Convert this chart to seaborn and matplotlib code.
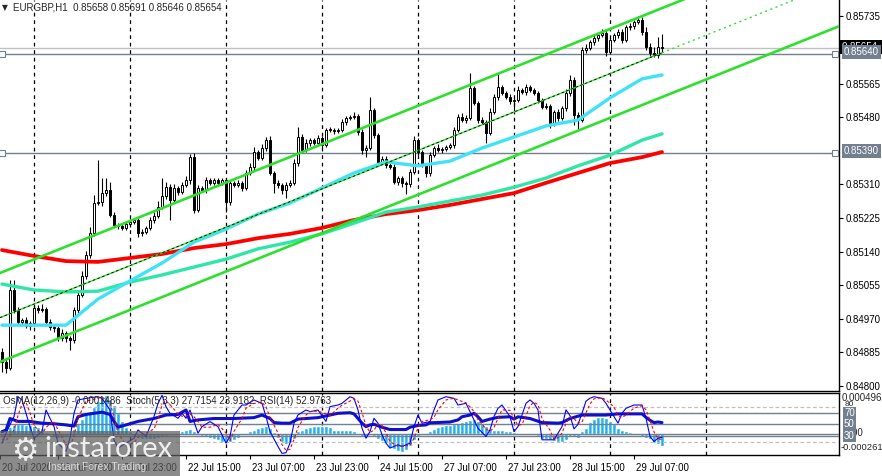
import numpy as np
import pandas as pd
import seaborn as sns
import matplotlib.pyplot as plt
from matplotlib.patches import Rectangle
from matplotlib.transforms import ScaledTranslation

# ---- data (EURGBP H1) ----
first_open = 0.84886
closes = [
    0.84861, 0.84846, 0.85043, 0.84992, 0.84962, 0.84967, 0.84952, 0.84959, 0.84997, 0.84992,
    0.84995, 0.84962, 0.84949, 0.84947, 0.84921, 0.84934, 0.84921, 0.84916, 0.84992, 0.85030,
    0.85078, 0.85131, 0.85187, 0.85263, 0.85266, 0.85288, 0.85296, 0.85233, 0.85207, 0.85205,
    0.85200, 0.85210, 0.85215, 0.85220, 0.85187, 0.85190, 0.85200, 0.85220, 0.85230, 0.85253,
    0.85281, 0.85303, 0.85271, 0.85301, 0.85291, 0.85309, 0.85321, 0.85379, 0.85245, 0.85301,
    0.85296, 0.85321, 0.85314, 0.85321, 0.85314, 0.85321, 0.85266, 0.85314, 0.85309, 0.85314,
    0.85301, 0.85339, 0.85354, 0.85392, 0.85377, 0.85402, 0.85422, 0.85339, 0.85314, 0.85309,
    0.85296, 0.85309, 0.85314, 0.85364, 0.85430, 0.85397, 0.85415, 0.85422, 0.85415, 0.85427,
    0.85410, 0.85448, 0.85448, 0.85445, 0.85448, 0.85468, 0.85478, 0.85481, 0.85484, 0.85443,
    0.85397, 0.85402, 0.85498, 0.85435, 0.85367, 0.85375, 0.85360, 0.85355, 0.85316, 0.85326,
    0.85314, 0.85310, 0.85341, 0.85422, 0.85392, 0.85359, 0.85339, 0.85384, 0.85402, 0.85397,
    0.85400, 0.85405, 0.85410, 0.85448, 0.85481, 0.85473, 0.85478, 0.85554, 0.85516, 0.85473,
    0.85468, 0.85440, 0.85493, 0.85531, 0.85556, 0.85541, 0.85531, 0.85521, 0.85524, 0.85549,
    0.85544, 0.85556, 0.85549, 0.85541, 0.85524, 0.85506, 0.85508, 0.85465, 0.85493, 0.85478,
    0.85503, 0.85541, 0.85574, 0.85486, 0.85473, 0.85650, 0.85655, 0.85670, 0.85680, 0.85688,
    0.85693, 0.85645, 0.85675, 0.85688, 0.85696, 0.85675, 0.85708, 0.85710, 0.85721, 0.85726,
    0.85696, 0.85657, 0.85642, 0.85637, 0.85658, 0.85654,
]
# wick lengths in points (1e-5)
upper_wick_pts = [
    10, 8, 25, 25, 8, 6, 8, 5, 10, 8,
    12, 6, 8, 5, 6, 10, 5, 6, 8, 10,
    12, 10, 15, 20, 106, 38, 30, 20, 8, 6,
    8, 5, 8, 6, 5, 8, 6, 8, 10, 15,
    45, 12, 8, 10, 6, 8, 10, 8, 10, 8,
    6, 8, 6, 5, 5, 6, 5, 8, 5, 6,
    5, 8, 10, 12, 6, 10, 8, 10, 5, 6,
    5, 6, 8, 10, 25, 8, 10, 6, 5, 8,
    6, 5, 8, 6, 5, 8, 6, 5, 8, 5,
    6, 8, 33, 6, 5, 8, 6, 5, 6, 5,
    6, 5, 8, 10, 6, 5, 6, 8, 6, 10,
    5, 6, 5, 8, 6, 10, 8, 38, 6, 5,
    8, 5, 10, 8, 35, 6, 5, 8, 6, 10,
    5, 8, 6, 5, 6, 5, 8, 5, 6, 8,
    6, 10, 12, 8, 6, 8, 10, 6, 8, 5,
    10, 8, 6, 5, 8, 6, 5, 8, 6, 10,
    8, 12, 10, 15, 25, 33,
]
lower_wick_pts = [
    25, 12, 5, 8, 6, 8, 5, 10, 6, 8,
    5, 6, 8, 10, 8, 6, 10, 25, 6, 8,
    5, 8, 6, 8, 5, 10, 8, 6, 5, 8,
    6, 5, 8, 6, 10, 8, 6, 5, 8, 6,
    5, 8, 50, 6, 8, 5, 6, 10, 8, 6,
    5, 8, 6, 5, 8, 6, 25, 8, 5, 6,
    8, 5, 6, 8, 5, 6, 8, 6, 25, 8,
    10, 20, 6, 5, 8, 6, 5, 8, 6, 5,
    8, 6, 5, 8, 6, 5, 8, 6, 5, 8,
    10, 18, 6, 8, 10, 6, 8, 6, 5, 8,
    10, 23, 6, 5, 8, 6, 10, 8, 5, 6,
    8, 5, 6, 8, 5, 6, 8, 6, 5, 8,
    6, 25, 5, 6, 8, 6, 5, 8, 33, 6,
    5, 8, 6, 5, 8, 6, 5, 13, 6, 8,
    5, 6, 8, 25, 25, 6, 8, 5, 6, 8,
    5, 10, 6, 5, 8, 6, 5, 8, 6, 5,
    8, 6, 8, 5, 8, 8,
]
volumes = [
    60, 65, 115, 65, 60, 43, 40, 25, 10, 50,
    42, 50, 45, 40, 30, 25, 25, 62, 82, 70,
    65, 65, 67, 85, 135, 128, 100, 75, 50, 60,
    45, 50, 85, 65, 60, 55, 50, 40, 35, 25,
    40, 85, 97, 75, 70, 72, 78, 78, 93, 99,
    75, 57, 35, 35, 25, 27, 37, 15, 15, 39,
    57, 39, 35, 35, 37, 63, 87, 73, 73, 73,
    105, 117, 145, 135, 127, 78, 63, 45, 33, 21,
    37, 12, 18, 69, 61, 39, 33, 25, 41, 65,
    87, 78, 65, 65, 65, 84, 99, 117, 111, 61,
    48, 40, 51, 29, 51, 51, 21, 85, 69, 45,
    35, 30, 39, 72, 96, 75, 63, 69, 81, 81,
    96, 108, 93, 81, 63, 57, 30, 18, 57, 18,
    18, 48, 37, 37, 48, 42, 42, 66, 63, 75,
    54, 60, 78, 72, 78, 108, 117, 78, 54, 36,
    36, 24, 21, 21, 27, 48, 63, 51, 45, 45,
    43, 57, 60, 63, 60, 57,
]

ma_bars = [0, 8, 16, 24, 32, 40, 48, 56, 64, 72, 80, 88, 96, 104, 112, 120, 128, 136, 144, 152, 160, 165]
ma_fast = [0.84954, 0.84954, 0.84954, 0.85020, 0.85066, 0.85111, 0.85164, 0.85197, 0.85235, 0.85263, 0.85301,
           0.85339, 0.85367, 0.85357, 0.85369, 0.85402, 0.85430, 0.85458, 0.85473, 0.85529, 0.85577, 0.85587]
ma_mid = [0.85058, 0.85043, 0.85038, 0.85040, 0.85063, 0.85081, 0.85101, 0.85121, 0.85147, 0.85164, 0.85185,
          0.85212, 0.85240, 0.85253, 0.85268, 0.85283, 0.85303, 0.85326, 0.85357, 0.85384, 0.85422, 0.85438]
ma_slow = [0.85144, 0.85129, 0.85116, 0.85114, 0.85124, 0.85134, 0.85149, 0.85159, 0.85174, 0.85185, 0.85200,
           0.85220, 0.85235, 0.85245, 0.85258, 0.85273, 0.85288, 0.85314, 0.85339, 0.85364, 0.85379, 0.85392]

# channel anchors: price at bar 0 and at bar 165
channel_bars = [0, 165]
channel_upper = [0.85088, 0.85756]
channel_mid = [0.84975, 0.85642]
channel_lower = [0.84863, 0.85531]

osma = [
    -0.00003, -0.00002, 0.00008, 0.00011, 0.00012, 0.00012, 0.00011, 0.00010, 0.00009, 0.00008,
    0.00007, 0.00002, -0.00002, -0.00004, -0.00005, -0.00005, -0.00004, -0.00002, 0.00006, 0.00012,
    0.00018, 0.00024, 0.00028, 0.00032, 0.00040, 0.00045, 0.00047, 0.00042, 0.00035, 0.00025,
    0.00015, 0.00008, 0.00003, -0.00003, -0.00005, -0.00006, -0.00007, -0.00007, -0.00006, -0.00005,
    -0.00004, -0.00003, -0.00002, -0.00001, 0.00001, 0.00003, 0.00004, 0.00006, 0.00003, -0.00002,
    -0.00003, -0.00004, -0.00005, -0.00006, -0.00008, -0.00010, -0.00012, -0.00010, -0.00008, -0.00005,
    -0.00002, 0.00001, 0.00003, 0.00005, 0.00007, 0.00008, 0.00009, 0.00007, 0.00002, -0.00005,
    -0.00010, -0.00013, -0.00012, -0.00006, 0.00003, 0.00005, 0.00007, 0.00008, 0.00009, 0.00009,
    0.00009, 0.00009, 0.00008, 0.00004, 0.00004, 0.00004, 0.00005, 0.00005, 0.00003, -0.00001,
    -0.00004, -0.00004, -0.00002, -0.00003, -0.00006, -0.00009, -0.00012, -0.00017, -0.00019, -0.00021,
    -0.00023, -0.00020, -0.00015, -0.00008, -0.00004, -0.00002, -0.00001, 0.00003, 0.00006, 0.00008,
    0.00009, 0.00010, 0.00011, 0.00012, 0.00013, 0.00014, 0.00015, 0.00017, 0.00018, 0.00016,
    0.00013, 0.00009, 0.00006, 0.00005, 0.00004, 0.00004, 0.00003, 0.00003, 0.00002, 0.00001,
    -0.00001, -0.00001, -0.00002, -0.00002, -0.00003, -0.00006, -0.00007, -0.00008, -0.00009, -0.00010,
    -0.00010, -0.00008, -0.00004, -0.00004, -0.00005, 0.00003, 0.00007, 0.00014, 0.00018, 0.00020,
    0.00020, 0.00019, 0.00016, 0.00012, 0.00007, 0.00004, 0.00003, 0.00002, 0.00001, -0.00002,
    -0.00004, -0.00005, -0.00006, -0.00011, -0.00013, -0.000149,
]

stoch_bars = [0, 1, 3, 4, 5, 6, 7, 8, 10, 11, 13, 14, 16, 17, 18, 19, 21, 24, 25, 27, 28, 29, 31, 33, 34, 36, 38, 39,
              40, 41, 42, 44, 45, 46, 47, 48, 49, 50, 52, 54, 56, 57, 58, 60, 61, 63, 65, 66, 67, 69, 70, 71, 72, 73,
              74, 76, 77, 79, 81, 82, 84, 85, 87, 88, 89, 90, 91, 92, 93, 94, 95, 96, 97, 99, 100, 102, 103, 104, 105,
              107, 108, 109, 111, 113, 114, 116, 117, 118, 119, 121, 122, 123, 124, 125, 127, 128, 129, 130, 131, 132,
              133, 134, 135, 137, 138, 139, 140, 141, 142, 143, 144, 145, 146, 147, 148, 150, 151, 153, 154, 155, 156,
              158, 160, 161, 162, 163, 164, 165]
stoch_main = [17.5, 34.7, 63.3, 97.6, 91.9, 69, 46, 26, 37.5, 74.7, 46, 17.5, 3.3, 26, 69, 91.9, 94.8, 97.6, 94.8,
              74.7, 23.3, 9, 17.5, 26, 40.4, 29, 63.3, 86.2, 100, 80.5, 69, 60.4, 69, 60.4, 74.7, 54.7, 34.7, 46, 54.7,
              46, 17.5, 29, 66.1, 83.3, 83.3, 91.9, 86.2, 63.3, 37.5, 11.8, 0, 1, 17.5, 51.8, 66.1, 74.7, 71.8, 74.7,
              55, 80.5, 83.3, 86.2, 97.6, 94.8, 74.7, 43.2, 26, 37.5, 60.4, 52, 32, 17.5, 9, 14.6, 11.8, 17.5, 46, 66,
              52, 54.7, 74.7, 92, 97.6, 94.8, 83.3, 86.2, 72, 57.6, 43.2, 29, 40.4, 63.3, 77.6, 83.3, 63.3, 37.5, 46,
              66, 86.2, 92, 86.2, 74.7, 23.3, 23.3, 23.3, 34.7, 46, 75, 65, 42, 50, 69, 90, 95, 97.6, 94.8, 86.2, 63.3,
              52, 69, 77.6, 83.3, 83.3, 60.4, 29, 20.4, 26, 27.7154]
stoch_signal = [25, 22, 40, 65, 85, 88, 70, 48, 32, 45, 55, 40, 15, 12, 30, 60, 90, 95, 97, 88, 62, 35, 14, 18, 28,
                35, 42, 60, 83, 90, 84, 68, 64, 64, 68, 63, 55, 45, 45, 50, 35, 22, 38, 60, 78, 86, 88, 80, 62, 35,
                15, 5, 7, 24, 45, 66, 72, 73, 68, 65, 78, 83, 90, 94, 90, 70, 48, 36, 40, 50, 48, 35, 20, 12, 12, 14,
                26, 44, 55, 58, 62, 75, 92, 95, 92, 87, 80, 72, 58, 42, 38, 45, 60, 75, 74, 60, 48, 50, 65, 82, 88, 84,
                60, 40, 24, 27, 35, 52, 62, 60, 52, 54, 70, 85, 94, 96, 92, 80, 65, 62, 66, 78, 82, 75, 57, 37, 25,
                23.9182]

rsi_bars = [0, 1, 2, 4, 7, 10, 13, 16, 18, 19, 21, 25, 27, 28, 29, 31, 34, 38, 41, 44, 46, 47, 49, 53, 58, 63, 65, 67,
            68, 70, 72, 74, 76, 79, 80, 82, 84, 87, 88, 90, 91, 92, 93, 95, 97, 101, 102, 104, 106, 107, 112, 114,
            115, 117, 118, 119, 120, 122, 124, 127, 128, 129, 132, 135, 139, 140, 142, 144, 145, 151, 154, 160, 161,
            162, 163, 164, 165]
rsi_values = [37.5, 40, 60, 55, 55, 52, 51, 49, 47, 63, 67, 71, 67, 55, 45, 49, 55, 60, 66, 67, 74.7, 55, 57.6, 60,
              60, 61.5, 66, 60, 53, 52, 52, 59, 60, 61.5, 63, 66, 69, 70, 68, 52, 46, 49, 50, 45, 41, 41, 45, 48, 49,
              52.6, 54, 57.6, 63, 66, 69, 63, 55, 59, 62, 63, 59, 63, 60, 53, 52, 53, 60, 64, 66, 66, 68, 68, 62, 57,
              53, 54, 52.9763]

price_ticks = [0.85735, 0.85565, 0.85480, 0.85310, 0.85225, 0.85140, 0.85055, 0.84970, 0.84885, 0.84800]
level_prices = [0.85640, 0.85390]
bid_price = 0.85654
grid_bars = [8, 32, 56, 80, 104, 128, 152, 176]
time_bars = [-0.5, 14, 30, 46, 62, 78, 94, 110, 126, 142, 158]
time_labels = ["20 Jul 2020", "21 Jul 07:00", "21 Jul 23:00", "22 Jul 15:00", "23 Jul 07:00", "23 Jul 23:00",
               "24 Jul 15:00", "27 Jul 07:00", "27 Jul 23:00", "28 Jul 15:00", "29 Jul 07:00"]

# ---- frame ----
df = pd.DataFrame({"bar": np.arange(len(closes)), "close": closes, "volume": volumes, "osma": osma})
df["open"] = [first_open] + closes[:-1]
top = df[["open", "close"]].max(axis=1)
bot = df[["open", "close"]].min(axis=1)
df["high"] = top + np.array(upper_wick_pts) * 1e-5
df["low"] = bot - np.array(lower_wick_pts) * 1e-5

sns.set_style("white")
plt.rcParams["font.family"] = ["Liberation Sans", "DejaVu Sans"]

W, H = 882, 476
fig = plt.figure(figsize=(W / 100, H / 100), dpi=100)


def rect(x0, y0, x1, y1):
    return [x0 / W, 1 - y1 / H, (x1 - x0) / W, (y1 - y0) / H]


def ptext(x, y, s, **kw):
    return fig.text(x / W, 1 - y / H, s, **kw)


XLIM = (-0.5, 209.25)
ax_vol = fig.add_axes(rect(0, 0, 839, 391))
ax = fig.add_axes(rect(0, 0, 839, 391))
ax_ind = fig.add_axes(rect(0, 393, 839, 455))
ax_osc = ax_ind.twinx()
ax.patch.set_alpha(0)

# volume
ax_vol.bar(df["bar"], df["volume"], width=0.25, color="#128a12")
ax_vol.set_xlim(*XLIM)
ax_vol.set_ylim(0, 1173)
ax_vol.axis("off")

# grid separators
for b in grid_bars:
    ax.axvline(b, color="black", lw=0.9, ls=(0, (3, 3)), zorder=1)
    ax_ind.axvline(b, color="black", lw=0.9, ls=(0, (3, 3)), zorder=1)

# candles
ax.vlines(df["bar"], df["low"], df["high"], color="black", lw=0.8, zorder=3)
bull = df["close"] >= df["open"]
height = (top - bot).clip(lower=1.2e-5)
ax.bar(df["bar"][bull], height[bull], bottom=bot[bull], width=0.7, color="white",
       edgecolor="black", linewidth=0.7, zorder=4)
ax.bar(df["bar"][~bull], height[~bull], bottom=bot[~bull], width=0.7, color="black",
       edgecolor="black", linewidth=0.7, zorder=4)

# moving averages
sns.lineplot(x=ma_bars, y=ma_slow, ax=ax, color="#ff0000", linewidth=2.7, zorder=5)
sns.lineplot(x=ma_bars, y=ma_mid, ax=ax, color="#2ee6a6", linewidth=2.4, zorder=5)
sns.lineplot(x=ma_bars, y=ma_fast, ax=ax, color="#40e2f6", linewidth=2.4, zorder=5)

# channel
slope = (channel_upper[1] - channel_upper[0]) / (channel_bars[1] - channel_bars[0])
x_full = np.array([-0.5, 210])
ax.plot(x_full, channel_upper[0] + slope * x_full, color="#2ee02e", lw=1.9, zorder=6)
ax.plot(x_full, channel_lower[0] + slope * x_full, color="#2ee02e", lw=1.9, zorder=6)
x_mid = np.array([-0.5, channel_bars[1]])
ax.plot(x_mid, channel_mid[0] + slope * x_mid, color="#2ee02e", lw=1.0, zorder=6)
ax.plot(x_mid, channel_mid[0] + slope * x_mid, color="black", lw=0.6, ls=(0, (3, 3)), zorder=6)
x_ext = np.array([channel_bars[1], 210])
ax.plot(x_ext, channel_mid[0] + slope * x_ext, color="#2ee02e", lw=1.0, ls=(0, (1.5, 2.5)), zorder=6)

# horizontal price levels
ax.axhline(bid_price, color="#c0c0c0", lw=1.0, zorder=2)
for p in level_prices:
    ax.axhline(p, color="#708090", lw=1.0, zorder=2)
    ax.plot([0, 208.2], [p, p], ls="none", marker="s", ms=4, mfc="white", mec="#708090", mew=0.8,
            zorder=7, clip_on=False)

ax.set_xlim(*XLIM)
ax.set_ylim(0.847874, 0.857766)
ax.yaxis.tick_right()
ax.set_yticks(price_ticks)
ax.set_yticklabels([f"{p:.5f}" for p in price_ticks])
ax.tick_params(axis="y", length=3, width=0.8, pad=2, labelsize=7, colors="black", right=True, left=False)
ax.set_xticks([])
for s in ("top", "left"):
    ax.spines[s].set_visible(False)
for s in ("right", "bottom"):
    ax.spines[s].set_color("black")
    ax.spines[s].set_linewidth(1.0)

# header
ptext(2, 8, "\u25bc", fontsize=5.5, va="center", ha="left", family=["DejaVu Sans"])
ptext(13, 8, "EURGBP,H1  0.85658 0.85691 0.85646 0.85654", fontsize=7, va="center", ha="left")

# right side price labels (bid label sits partly behind the level label)
ptext(842, 47, "0.85654 ", fontsize=7, color="white", va="center", ha="left",
      bbox=dict(boxstyle="square,pad=0.18", fc="black", ec="none"), zorder=8)
for p, y in zip(level_prices, (52, 151)):
    ptext(844, y, f"{p:.5f}", fontsize=7, color="white", va="center", ha="left",
          bbox=dict(boxstyle="square,pad=0.25", fc="#727f8e", ec="none"), zorder=9)

# ---- indicator window ----
ax_ind.bar(df["bar"], df["osma"], width=0.8, color="#1fb3f0", zorder=2)
ax_ind.axhline(0, color="#708090", lw=1.0, zorder=3)
ax_ind.set_ylim(-0.000261, 0.000496)
ax_ind.set_xlim(*XLIM)
ax_ind.set_yticks([])
ax_ind.spines["left"].set_visible(False)
for s in ("top", "bottom", "right"):
    ax_ind.spines[s].set_color("black")
    ax_ind.spines[s].set_linewidth(1.0)

for lv in (70, 50, 30):
    ax_osc.axhline(lv, color="#708090", lw=1.0, zorder=1)
for lv in (80, 20):
    ax_osc.axhline(lv, color="#c0c0c0", lw=0.9, ls=(0, (3, 2)), zorder=1)
sns.lineplot(x=rsi_bars, y=rsi_values, ax=ax_osc, color="#1010c8", linewidth=2.2, zorder=3)
sns.lineplot(x=stoch_bars, y=stoch_main, ax=ax_osc, color="#0000ff", linewidth=0.8, zorder=4)
sns.lineplot(x=stoch_bars, y=stoch_signal, ax=ax_osc, color="#ff0000", linewidth=0.8,
             linestyle=(0, (2.5, 2)), zorder=4)
ax_osc.set_ylim(-2.9, 104)
ax_osc.set_xlim(*XLIM)
ax_osc.set_yticks([])
ax_osc.set_ylabel("")
for s in ax_osc.spines.values():
    s.set_visible(False)

ax_ind.set_xticks(time_bars)
ax_ind.set_xticklabels(time_labels, ha="left", fontsize=7)
ax_ind.tick_params(axis="x", length=3, width=0.8, pad=3, bottom=True, colors="black")
for lab in ax_ind.get_xticklabels():
    lab.set_transform(lab.get_transform() + ScaledTranslation(2 / 100, 0, fig.dpi_scale_trans))

ptext(3, 401, "OsMA(12,26,9) -0.0001486  Stoch(5,3,3) 27.7154 23.9182  RSI(14) 52.9763",
      fontsize=7, va="center", ha="left", zorder=1)

# indicator scale labels
ptext(842, 398, "0.000496", fontsize=7, va="center", ha="left")
ptext(845, 404, "80", fontsize=6, va="center", ha="left")
ptext(845, 433, "0.00", fontsize=7, va="center", ha="left")
ptext(845, 441, "20", fontsize=6, va="center", ha="left")
ptext(841, 448, "-0.000261", fontsize=6.8, va="center", ha="left")
for lv, y in ((70, 413), (50, 424), (30, 436)):
    ptext(844, y, str(lv), fontsize=7, color="white", va="center", ha="left",
          bbox=dict(boxstyle="square,pad=0.15", fc="#727f8e", ec="none"), zorder=9)

# watermark logo
fig.add_artist(Rectangle((0, 0), 180 / W, 45 / H, transform=fig.transFigure,
                         fc="#5e5e5e", ec="none", alpha=0.72, zorder=20))
ptext(25, 452, "\u2699", fontsize=22, color="#eeeeee", va="center", ha="center",
      family=["DejaVu Sans"], zorder=21)
ptext(44, 449, "instaforex", fontsize=21, color="#eeeeee", va="center", ha="left",
      family=["Lato", "DejaVu Sans"], zorder=21)
ptext(48, 467, "Instant Forex Trading", fontsize=7.5, color="#d8d8d8", va="center", ha="left", zorder=21)

fig.savefig("out.png", dpi=100)
